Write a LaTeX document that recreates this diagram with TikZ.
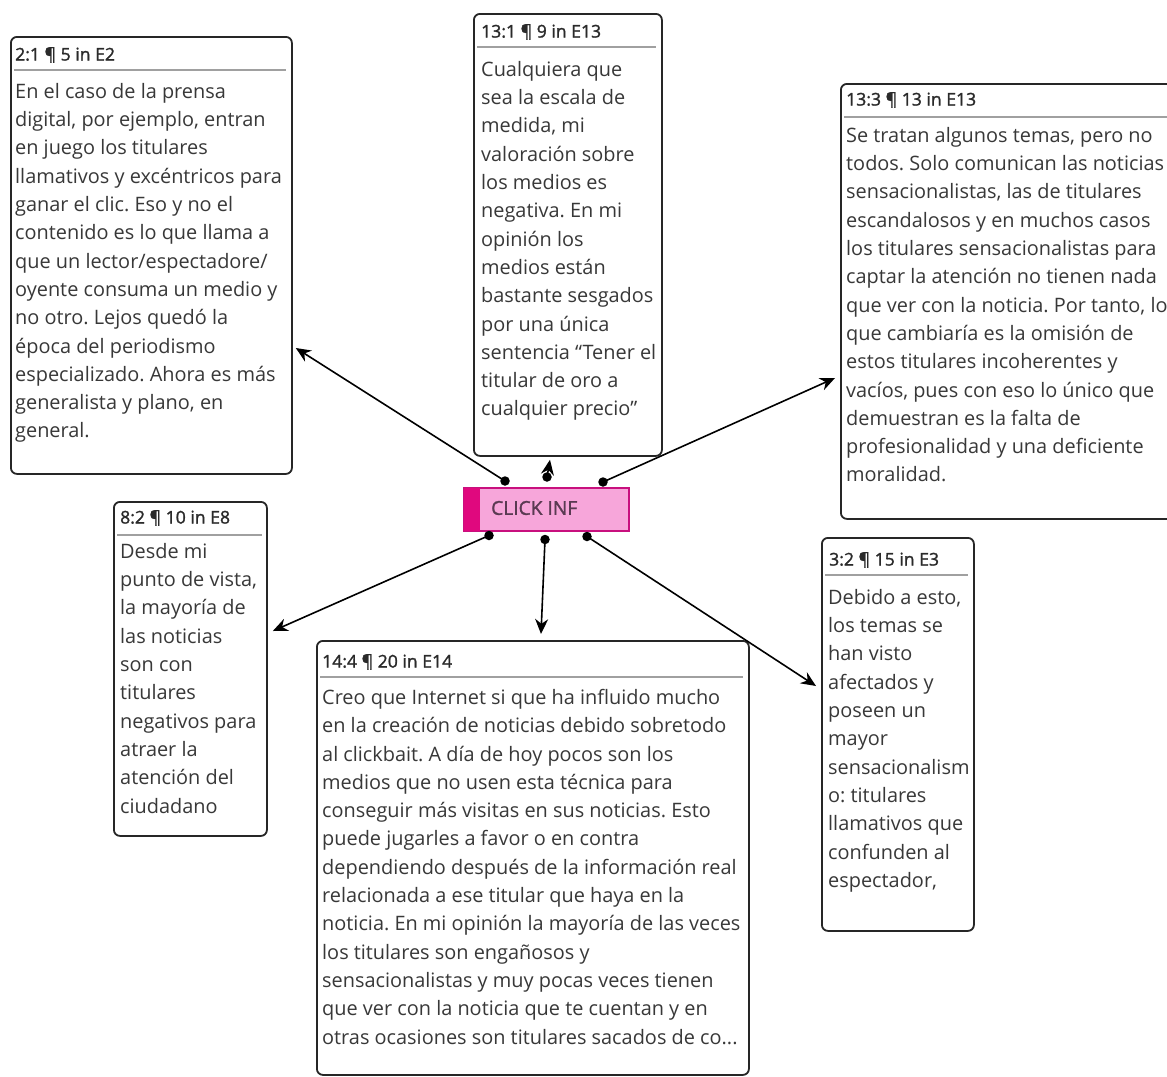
\documentclass[tikz,border=0pt]{standalone}
\usepackage{fontspec}
\setmainfont{Open Sans}
\newfontface\hdrfont[FakeBold=1.4]{Open Sans}
\usetikzlibrary{arrows.meta,calc}
\definecolor{txt}{HTML}{383838}
\definecolor{hdr}{HTML}{2A2A2A}
\definecolor{bord}{HTML}{262626}
\definecolor{sep}{HTML}{A0A0A0}
\definecolor{pinkfill}{HTML}{F7A6DA}
\definecolor{pinkstrip}{HTML}{E0087E}
\definecolor{pinkbord}{HTML}{C8107E}
\definecolor{clicktxt}{HTML}{5A3A52}
\tikzset{
  quote/.style={draw=bord, line width=1.8pt, rounded corners=6pt, fill=white, anchor=north west, inner sep=0pt},
  hdrtext/.style={anchor=west, inner sep=0pt, text=hdr, font=\hdrfont\fontsize{17.6}{20}\selectfont},
  bodytext/.style={anchor=north west, inner sep=0pt, align=left, text=txt, font=\frenchspacing\fontsize{19.9}{28.3}\selectfont},
  sepline/.style={draw=sep, line width=1.3pt},
  conn/.style={line width=1.6pt, -{Stealth[length=15pt,width=13pt]}},
  dot/.style={circle, fill=black, inner sep=0pt, minimum size=9.5pt}
}
\begin{document}
\begin{tikzpicture}[x=1pt,y=-1pt]
\useasboundingbox (0,0) rectangle (1167,1076);
\begin{scope}
\clip (0,0) rectangle (1167,1076);
% boxes
\node[quote, minimum width=281pt, minimum height=437pt] (b1) at (10,36) {};
\node[quote, minimum width=188pt, minimum height=442pt] (b2) at (473,13) {};
\node[quote, minimum width=360pt, minimum height=435pt] (b3) at (840,83) {};
\node[quote, minimum width=153pt, minimum height=334pt] (b4) at (113,501) {};
\node[quote, minimum width=432pt, minimum height=434pt] (b5) at (316,640) {};
\node[quote, minimum width=152pt, minimum height=393pt] (b6) at (821,537) {};
% separators
\draw[sepline] (14,70) -- (286,70);
\draw[sepline] (477,47) -- (656,47);
\draw[sepline] (844,117) -- (1167,117);
\draw[sepline] (117,535) -- (262,535);
\draw[sepline] (320,677) -- (743,677);
\draw[sepline] (825,575) -- (968,575);
% headers
\node[hdrtext] (h1) at (15,55) {2:1 ¶ 5 in E2};
\node[hdrtext] (h2) at (481,32) {13:1 ¶ 9 in E13};
\node[hdrtext] (h3) at (846,100) {13:3 ¶ 13 in E13};
\node[hdrtext] (h4) at (120,518) {8:2 ¶ 10 in E8};
\node[hdrtext] (h5) at (322,662) {14:4 ¶ 20 in E14};
\node[hdrtext] (h6) at (829,560) {3:2 ¶ 15 in E3};
% bodies
\node[bodytext] (t1) at (15,83) {En el caso de la prensa\\digital, por ejemplo, entran\\en juego los titulares\\llamativos y excéntricos para\\ganar el clic. Eso y no el\\contenido es lo que llama a\\que un lector/espectadore/\\oyente consuma un medio y\\no otro. Lejos quedó la\\época del periodismo\\especializado. Ahora es más\\generalista y plano, en\\general.};
\node[bodytext] (t2) at (481,61) {Cualquiera que\\sea la escala de\\medida, mi\\valoración sobre\\los medios es\\negativa. En mi\\opinión los\\medios están\\bastante sesgados\\por una única\\sentencia “Tener el\\titular de oro a\\cualquier precio”};
\node[bodytext] (t3) at (846,127) {Se tratan algunos temas, pero no\\todos. Solo comunican las noticias\\sensacionalistas, las de titulares\\escandalosos y en muchos casos\\los titulares sensacionalistas para\\captar la atención no tienen nada\\que ver con la noticia. Por tanto, lo\\que cambiaría es la omisión de\\estos titulares incoherentes y\\vacíos, pues con eso lo único que\\demuestran es la falta de\\profesionalidad y una deficiente\\moralidad.};
\node[bodytext] (t4) at (120,543) {Desde mi\\punto de vista,\\la mayoría de\\las noticias\\son con\\titulares\\negativos para\\atraer la\\atención del\\ciudadano};
\node[bodytext] (t5) at (322,689) {Creo que Internet si que ha influido mucho\\en la creación de noticias debido sobretodo\\al clickbait. A día de hoy pocos son los\\medios que no usen esta técnica para\\conseguir más visitas en sus noticias. Esto\\puede jugarles a favor o en contra\\dependiendo después de la información real\\relacionada a ese titular que haya en la\\noticia. En mi opinión la mayoría de las veces\\los titulares son engañosos y\\sensacionalistas y muy pocas veces tienen\\que ver con la noticia que te cuentan y en\\otras ocasiones son titulares sacados de co...};
\node[bodytext] (t6) at (828,589) {Debido a esto,\\los temas se\\han visto\\afectados y\\poseen un\\mayor\\sensacionalism\\o: titulares\\llamativos que\\confunden al\\espectador,};
\end{scope}
% central node
\node[draw=pinkbord, line width=1.5pt, fill=pinkfill, anchor=north west, minimum width=165pt, minimum height=43pt, inner sep=0pt] (c) at (463,487) {};
\fill[pinkstrip] ([xshift=0.75pt,yshift=-0.75pt]c.north west) rectangle ([xshift=17pt,yshift=0.75pt]c.south west);
\node[anchor=west, inner sep=0pt, text=clicktxt, font=\hdrfont\fontsize{19.2}{20}\selectfont] (cl) at (491,508) {CLICK INF};
% connector endpoints
\coordinate (d1) at ([xshift=42pt,yshift=6pt]c.north west);
\coordinate (d2) at ([xshift=84pt,yshift=10pt]c.north west);
\coordinate (d3) at ([xshift=140pt,yshift=5pt]c.north west);
\coordinate (d4) at ([xshift=26pt,yshift=-4pt]c.south west);
\coordinate (d5) at ([xshift=82pt,yshift=-8pt]c.south west);
\coordinate (d6) at ([xshift=124pt,yshift=-5pt]c.south west);
\coordinate (e1) at ([xshift=3pt]b1.east |- 0,348);
\coordinate (e2) at ([yshift=-3pt]b2.south -| 550,0);
\coordinate (e3) at ([xshift=-5pt]b3.west |- 0,378);
\coordinate (e4) at ([xshift=5pt]b4.east |- 0,631);
\coordinate (e5) at ([yshift=6pt]b5.north -| 541,0);
\coordinate (e6) at ([xshift=-5pt]b6.west |- 0,686);
\foreach \i in {1,...,6}{
  \draw[conn] (d\i) -- (e\i);
  \node[dot] at (d\i) {};
}
\end{tikzpicture}
\end{document}
